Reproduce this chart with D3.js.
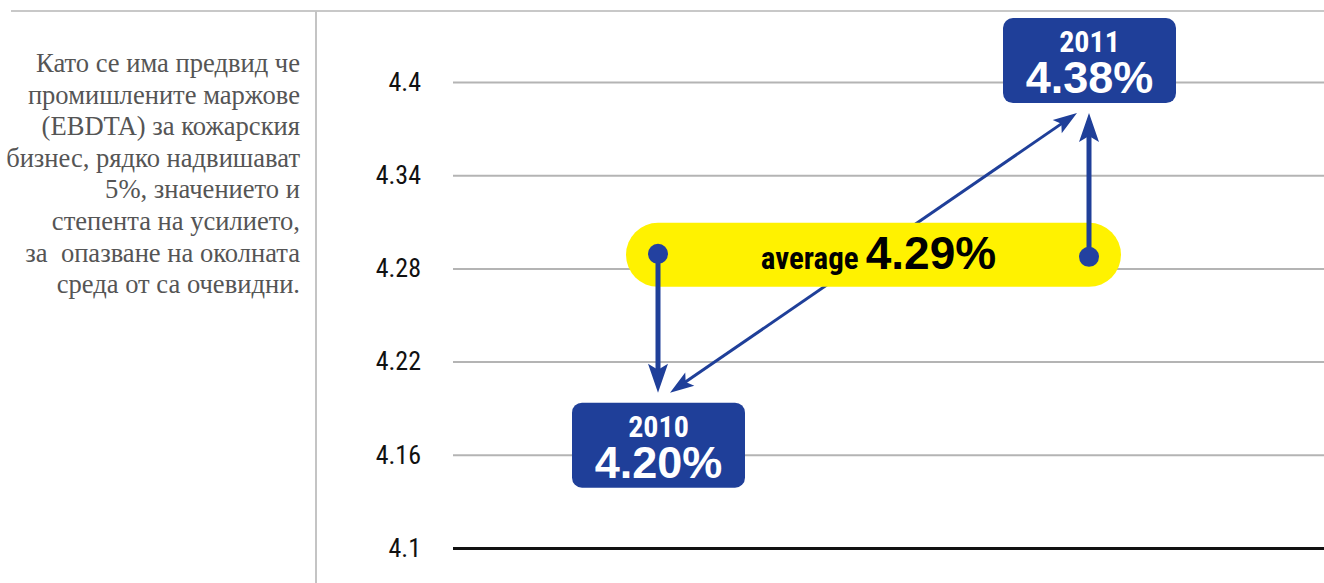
<!DOCTYPE html>
<html><head><meta charset="utf-8">
<script src="https://cdn.jsdelivr.net/npm/d3@7"></script>
<style>
html,body{margin:0;padding:0;background:#fff;}
svg{display:block;}
</style></head>
<body>
<svg id="chart" width="1324" height="583"></svg>
<script>
const years = [2010, 2011];
const values = [4.20, 4.38];
const average = 4.29;
const tickValues = [4.1, 4.16, 4.22, 4.28, 4.34, 4.4];
const noteLines = [
  "Като се има предвид че",
  "промишлените маржове",
  "(EBDTA) за кожарския",
  "бизнес, рядко надвишават",
  "5%, значението и",
  "степента на усилието,",
  "за  опазване на околната",
  "среда от са очевидни."
];

const W = 1324, H = 583;
const svg = d3.select("#chart");
const blue = "#1f3f99";
const yellow = "#fff200";
const narrow = "'Liberation Sans Narrow','Roboto Condensed','Liberation Sans',Arial,sans-serif";

// pick an installed serif font
function fontAvailable(name) {
  const probe = svg.append("text").attr("font-size", 40).text("Като WiiimM (EBDTA)");
  probe.attr("font-family", "'" + name + "',monospace");
  const a = probe.node().getComputedTextLength();
  probe.attr("font-family", "'" + name + "',sans-serif");
  const b = probe.node().getComputedTextLength();
  probe.remove();
  return Math.abs(a - b) < 0.01;
}
const serifCandidates = ["Liberation Serif", "Times New Roman", "Tinos", "DejaVu Serif", "Noto Serif", "FreeSerif", "Times"];
const serifName = serifCandidates.find(fontAvailable);
const serif = serifName ? "'" + serifName + "',serif" : "serif";

const y = d3.scaleLinear().domain([4.1, 4.4]).range([548, 82]);
const x = d3.scaleLinear().domain([2010, 2011]).range([658, 1089]);

// frame lines
svg.append("line").attr("x1", 11).attr("x2", W).attr("y1", 11).attr("y2", 11)
  .attr("stroke", "#c8c8c8").attr("stroke-width", 2);
svg.append("line").attr("x1", 316).attr("x2", 316).attr("y1", 11).attr("y2", H)
  .attr("stroke", "#c4c4c4").attr("stroke-width", 2);

// note text
const note = svg.append("text").attr("text-anchor", "end")
  .attr("font-family", serif)
  .attr("font-size", 22).attr("fill", "#555")
  .style("white-space", "pre");
noteLines.forEach((l, i) => {
  note.append("tspan").attr("x", 300).attr("y", 72 + i * 31.6).text(l);
});
// fit widest line to the reference width (~294px)
const widest = note.selectAll("tspan").nodes()[3];
const wl = widest.getComputedTextLength();
if (wl > 0) note.attr("font-size", 22 * 294 / wl);

// axis
const axis = d3.axisLeft(y).tickValues(tickValues).tickSize(-(W - 453)).tickPadding(32)
  .tickFormat(d => String(d));
const ag = svg.append("g").attr("transform", "translate(453,0)").call(axis);
ag.select(".domain").remove();
ag.selectAll(".tick line").attr("stroke", d => d === 4.1 ? "#111" : "#b4b4b4")
  .attr("stroke-width", d => d === 4.1 ? 3 : 2);
ag.selectAll(".tick text").attr("font-family", narrow).attr("font-size", 26)
  .attr("fill", "#111");

// arrowhead helper
function arrowHead(tx, ty, angle, len, half, notch) {
  const ca = Math.cos(angle), sa = Math.sin(angle);
  const pt = (a, b) => [tx - a * ca - b * -sa, ty - a * sa - b * ca];
  const p = [[tx, ty], pt(len, half), pt(len - notch, 0), pt(len, -half)];
  return "M" + p.map(q => q.join(",")).join("L") + "Z";
}

// diagonal double arrow (behind pill)
const p0 = [x(years[0]) + 12, y(values[0])];
const p1 = [x(years[1]) - 12, y(values[1])];
const ang = Math.atan2(p1[1] - p0[1], p1[0] - p0[0]);
const off = 16;
svg.append("line")
  .attr("x1", p0[0] + off * Math.cos(ang)).attr("y1", p0[1] + off * Math.sin(ang))
  .attr("x2", p1[0] - off * Math.cos(ang)).attr("y2", p1[1] - off * Math.sin(ang))
  .attr("stroke", blue).attr("stroke-width", 3);
svg.append("path").attr("d", arrowHead(p1[0], p1[1], ang, 24, 8, 5)).attr("fill", blue);
svg.append("path").attr("d", arrowHead(p0[0], p0[1], ang + Math.PI, 24, 8, 5)).attr("fill", blue);

// average pill
const avgY = y(average) + 2;
const pillX0 = x(years[0]) - 32, pillX1 = x(years[1]) + 32;
svg.append("rect").attr("x", pillX0).attr("y", avgY - 32)
  .attr("width", pillX1 - pillX0).attr("height", 64).attr("rx", 32).attr("fill", yellow);
const avgText = svg.append("text").attr("x", (pillX0 + pillX1) / 2 + 5).attr("y", avgY + 14)
  .attr("text-anchor", "middle").attr("fill", "#000");
avgText.append("tspan").attr("font-family", narrow).attr("font-weight", "bold")
  .attr("font-size", 31).text("average ");
avgText.append("tspan").attr("font-family", "'Liberation Sans',Arial,sans-serif")
  .attr("font-weight", "bold").attr("font-size", 46).text(d3.format(".2f")(average) + "%");

// vertical arrows from average to each value
years.forEach((yr, i) => {
  const cx = x(yr), cy = avgY + (i === 0 ? -1 : 2);
  const ty = y(values[i]);
  const dir = ty > cy ? 1 : -1;
  svg.append("line").attr("x1", cx).attr("x2", cx).attr("y1", cy)
    .attr("y2", ty - dir * 20).attr("stroke", blue).attr("stroke-width", 5);
  svg.append("path").attr("d", arrowHead(cx, ty, dir > 0 ? Math.PI / 2 : -Math.PI / 2, 29, 10, 6))
    .attr("fill", blue);
  svg.append("circle").attr("cx", cx).attr("cy", cy).attr("r", 10).attr("fill", "#2341a0");
});

// value boxes
years.forEach((yr, i) => {
  const cx = x(yr) + 0.5;
  const vy = y(values[i]);
  const top = i === 0 ? vy + 10 : vy - 95;
  const g = svg.append("g");
  g.append("rect").attr("x", cx - 86.5).attr("y", top).attr("width", 173).attr("height", 85)
    .attr("rx", 10).attr("fill", blue);
  const t = g.append("text").attr("text-anchor", "middle").attr("fill", "#fff");
  t.append("tspan").attr("x", cx).attr("y", top + 34)
    .attr("font-family", narrow).attr("font-weight", "bold").attr("font-size", 30)
    .text(yr);
  t.append("tspan").attr("x", cx).attr("y", top + 75)
    .attr("font-family", "'Liberation Sans',Arial,sans-serif").attr("font-weight", "bold")
    .attr("font-size", 45).text(d3.format(".2f")(values[i]) + "%");
});
</script>
</body></html>
